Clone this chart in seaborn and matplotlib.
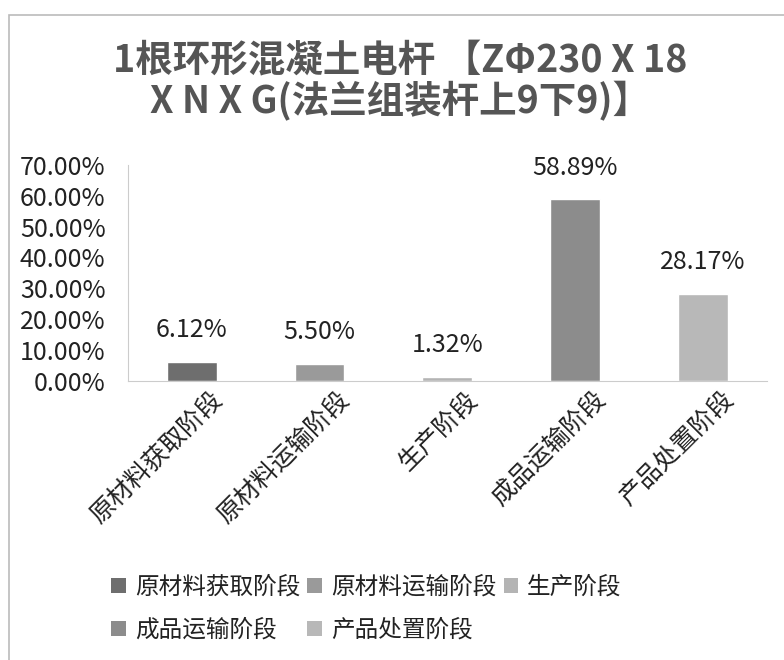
import numpy as np
import pandas as pd
import seaborn as sns
import matplotlib.pyplot as plt
import matplotlib.transforms as mtransforms
from matplotlib.patches import Rectangle, Patch
from matplotlib.ticker import PercentFormatter

# data
stages = ['原材料获取阶段', '原材料运输阶段', '生产阶段', '成品运输阶段', '产品处置阶段']
shares = [0.0612, 0.0550, 0.0132, 0.5889, 0.2817]
labels = ['6.12%', '5.50%', '1.32%', '58.89%', '28.17%']
colors = ['#6e6e6e', '#9a9a9a', '#b4b4b4', '#8c8c8c', '#b8b8b8']

sns.set_style('white')
plt.rcParams['font.family'] = ['Noto Sans CJK SC', 'DejaVu Sans']

df = pd.DataFrame({'stage': stages, 'share': shares})

fig = plt.figure(figsize=(7.84, 6.6), dpi=100)
ax = fig.add_axes([0.163, 0.423, 0.815, 0.327])

sns.barplot(data=df, x='stage', y='share', hue='stage', palette=colors,
            width=0.39, legend=False, ax=ax)

ax.set_ylim(0, 0.7)
ax.set_xlim(-0.5, 4.5)
ax.set_yticks(np.arange(0, 0.71, 0.1))
ax.yaxis.set_major_formatter(PercentFormatter(1.0, decimals=2))
ax.tick_params(axis='y', labelsize=18, colors='#222222', length=5, color='#cccccc', pad=11)
ax.set_xticks(range(len(stages)))
ax.set_xticklabels(stages, rotation=45, ha='right', rotation_mode='anchor',
                   fontsize=18, color='#222222')
ax.tick_params(axis='x', length=0, pad=4)
shift = mtransforms.ScaledTranslation(0.17, 0, fig.dpi_scale_trans)
for lab in ax.get_xticklabels():
    lab.set_transform(lab.get_transform() + shift)
ax.set_xticks(np.arange(-0.5, 4.6, 1), minor=True)
ax.tick_params(axis='x', which='minor', length=5, color='#cccccc')
ax.set_xlabel('')
ax.set_ylabel('')
for s in ['top', 'right']:
    ax.spines[s].set_visible(False)
ax.spines['left'].set_color('#cccccc')
ax.spines['bottom'].set_color('#cccccc')

for i, (v, t) in enumerate(zip(shares, labels)):
    ax.text(i, v + 0.06, t, ha='center', va='bottom', fontsize=18, color='#222222')

fig.text(0.51, 0.877, '1根环形混凝土电杆 【ZΦ230 X 18\nX N X G(法兰组装杆上9下9)】',
         ha='center', va='center', fontsize=27, fontweight='bold', color='#555555',
         linespacing=1.05)

handles = [Patch(facecolor=c, edgecolor='none') for c in colors]
order = [0, 3, 1, 4, 2]
fig.legend([handles[i] for i in order], [stages[i] for i in order],
           loc='upper left', bbox_to_anchor=(0.115, 0.16), ncol=3,
           frameon=False, fontsize=17, handlelength=0.6, handleheight=0.6,
           handletextpad=0.4, columnspacing=0.3, labelspacing=0.85, labelcolor='#222222')

# chart border like the original frame
fig.patches.append(Rectangle((0.011, -0.02), 1.1, 1 - 0.022 + 0.02, transform=fig.transFigure,
                             fill=False, edgecolor='#bbbbbb', linewidth=1.2))

fig.savefig('out.png', dpi=100)
